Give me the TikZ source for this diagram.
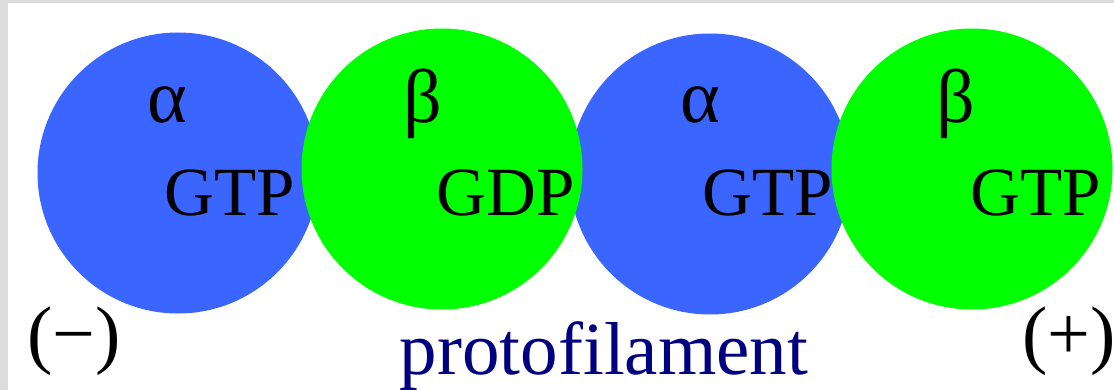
\documentclass[tikz,border=0pt]{standalone}
\usepackage{fontspec}
\setmainfont{Liberation Serif}
\definecolor{tubblue}{RGB}{58,102,255}
\definecolor{tubgreen}{RGB}{0,255,0}
\definecolor{framegray}{RGB}{220,220,220}
\definecolor{labelnavy}{RGB}{0,0,128}
\tikzset{
  sub/.style={circle, inner sep=0pt, minimum size=281pt},
  alphasub/.style={sub, fill=tubblue},
  betasub/.style={sub, fill=tubgreen},
  greek/.style={inner sep=0pt, anchor=base, font=\fontsize{76}{76}\selectfont},
  nuc/.style={inner sep=0pt, anchor=base, font=\fontsize{69}{69}\selectfont},
  polarity/.style={inner sep=0pt, anchor=base, font=\fontsize{76}{76}\selectfont},
  caption/.style={inner sep=0pt, anchor=base, text=labelnavy, font=\fontsize{75}{75}\selectfont}
}
\begin{document}
\begin{tikzpicture}[x=1pt,y=-1pt]
\useasboundingbox (0,0) rectangle (1114,390);
\fill[framegray] (0,0) rectangle (1114,390);
\fill[white] (8,3.5) rectangle (1114,390);
% subunits
\node[alphasub] (c1) at (178,173) {};
\node[alphasub] (c3) at (710,174) {};
\node[betasub] (c2) at (442,169) {};
\node[betasub] (c4) at (972,169) {};
% greek labels
\node[greek] (a1) at (167,123) {α};
\node[greek] (b2) at (423,123) {β};
\node[greek] (a3) at (700,123) {α};
\node[greek] (b4) at (956,123) {β};
% nucleotides
\node[nuc] (n1) at (230,216) {GTP};
\node[nuc] (n2) at (506,216) {GDP};
\node[nuc] (n3) at (768,216) {GTP};
\node[nuc] (n4) at (1036,216) {GTP};
% ends
\node[polarity] (minus) at (74,359) {(−)};
\node[polarity] (plus) at (1069,359) {(+)};
\node[caption] (cap) at (604,374) {protofilament};
\end{tikzpicture}
\end{document}
